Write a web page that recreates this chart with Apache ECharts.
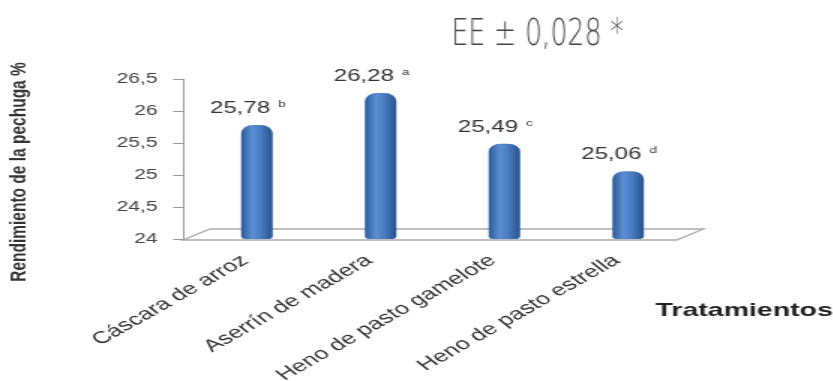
<!DOCTYPE html>
<html>
<head>
<meta charset="utf-8">
<script src="https://cdn.jsdelivr.net/npm/echarts@6/dist/echarts.min.js"></script>
<style>
  html, body { margin: 0; padding: 0; background: #fff; overflow: hidden; }
  /* el original está estirado en horizontal */
  #chart { width: 556px; height: 381px; transform: scaleX(1.5); transform-origin: 0 0; }
</style>
</head>
<body>
<div id="chart"></div>
<script>
// datos del gráfico
var categorias = ["Cáscara de arroz", "Aserrín de madera", "Heno de pasto gamelote", "Heno de pasto estrella"];
var rendimiento = [25.78, 26.28, 25.49, 25.06];
var letras = ["b", "a", "c", "d"];
var yTicks = [24, 24.5, 25, 25.5, 26, 26.5];

var myChart = echarts.init(document.getElementById("chart"));

// degradado tipo cilindro
var barColor = new echarts.graphic.LinearGradient(0, 0, 1, 0, [
  { offset: 0, color: "#2c5a98" },
  { offset: 0.35, color: "#5b8fd2" },
  { offset: 0.6, color: "#4a7ec3" },
  { offset: 1, color: "#28528c" }
]);

var coma = function (v) { return String(v).replace(".", ","); };

var option = {
  animation: false,
  textStyle: { fontFamily: "Liberation Sans, Arial, sans-serif" },
  grid: { left: 130, right: 96, top: 79, height: 160, outerBoundsMode: "none", containLabel: false },
  xAxis: {
    type: "category",
    data: categorias,
    axisLine: { show: false },
    axisTick: { show: false },
    axisLabel: {
      rotate: 40,
      interval: 0,
      margin: 13,
      padding: [0, 10, 0, 0],
      fontSize: 17,
      color: "#333"
    }
  },
  yAxis: {
    type: "value",
    min: yTicks[0],
    max: yTicks[yTicks.length - 1],
    interval: 0.5,
    offset: 8,
    axisLine: { show: true, lineStyle: { color: "#999", width: 1 } },
    axisTick: { show: true, length: 6.5, lineStyle: { color: "#999" } },
    splitLine: { show: false },
    axisLabel: { fontSize: 14, color: "#444", margin: 17, formatter: coma }
  },
  series: [
    {
      type: "bar",
      data: rendimiento,
      barWidth: 21,
      itemStyle: { color: barColor, borderRadius: [8, 8, 3, 3] },
      label: {
        show: true,
        position: "top",
        distance: 8,
        offset: [-6, 0],
        formatter: function (p) {
          return "{v|" + coma(p.value) + "} {s|" + letras[p.dataIndex] + "}";
        },
        rich: {
          v: { fontSize: 16, color: "#333" },
          s: { fontSize: 9, color: "#333", verticalAlign: "top", padding: [0, 0, 8, 2] }
        }
      }
    }
  ]
};
myChart.setOption(option);

// piso en perspectiva y textos
var p0 = myChart.convertToPixel({ gridIndex: 0 }, [0, yTicks[0]]);
var yb = p0[1] + 1;
var xl = 122, xr = 451, dx = 18, dy = 11;
myChart.setOption({
  graphic: [
    {
      type: "polygon",
      shape: { points: [[xl, yb], [xl + dx, yb - dy], [xr + dx, yb - dy], [xr, yb]] },
      style: { fill: "rgba(0,0,0,0)", stroke: "#aaa", lineWidth: 1.3 },
      z: 0
    },
    {
      type: "text",
      x: 301,
      y: 35,
      scaleX: 0.47,
      style: {
        text: "EE ± 0,028 *",
        font: "lighter 38px 'DejaVu Sans', sans-serif",
        fill: "#444",
        textAlign: "left",
        textVerticalAlign: "middle"
      }
    },
    {
      type: "text",
      x: 13,
      y: 172,
      rotation: Math.PI / 2,
      scaleY: 0.9,
      style: {
        text: "Rendimiento de la pechuga %",
        font: "bold 15.5px 'Liberation Sans', Arial, sans-serif",
        fill: "#333",
        textAlign: "center",
        textVerticalAlign: "middle"
      }
    },
    {
      type: "text",
      x: 437,
      y: 311,
      style: {
        text: "Tratamientos",
        font: "bold 19px 'Liberation Sans', Arial, sans-serif",
        fill: "#222",
        textAlign: "left",
        textVerticalAlign: "middle"
      }
    }
  ]
});
</script>
</body>
</html>
